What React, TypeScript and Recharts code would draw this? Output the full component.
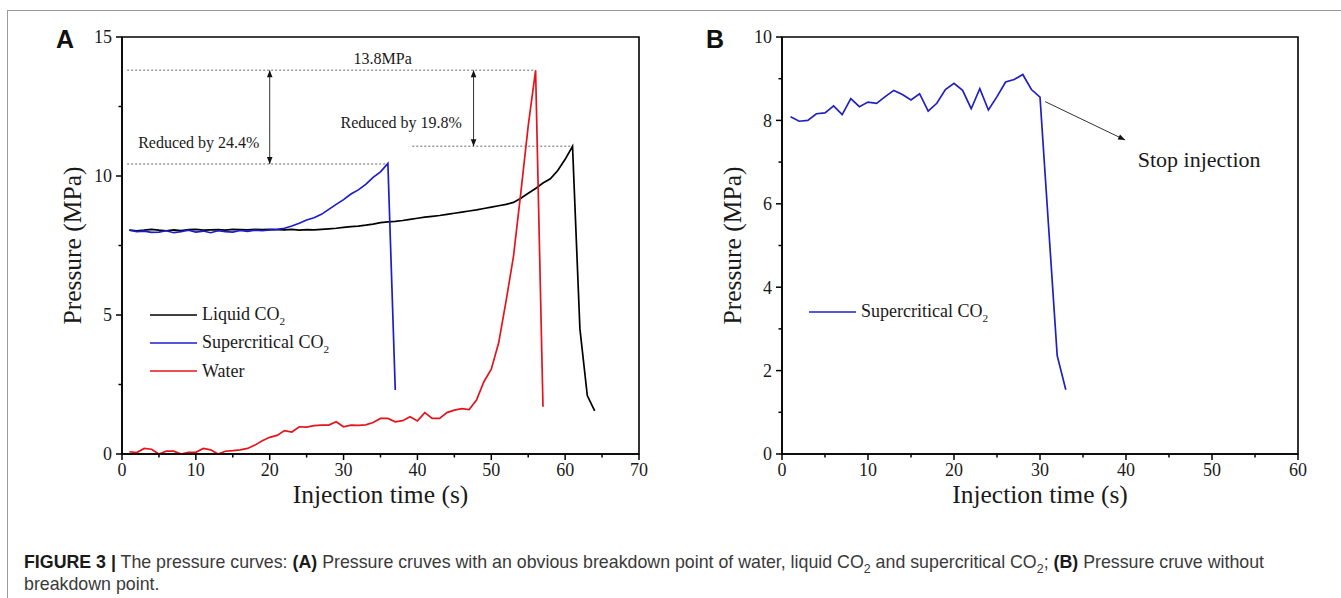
import React from 'react';
import {
  LineChart,
  Line,
  XAxis,
  YAxis,
  Legend,
  ReferenceArea,
  ReferenceLine,
  ReferenceDot,
} from 'recharts';

// Panel A: pressure (MPa) against injection time (s)
const liquidTime = [
  1, 2, 3, 4, 5, 6, 7, 8, 9, 10, 11, 12, 13, 14, 15, 16, 17, 18, 19, 20, 21, 22,
  23, 24, 25, 26, 27, 28, 29, 30, 31, 32, 33, 34, 35, 36, 37, 38, 39, 40, 41, 42,
  43, 44, 45, 46, 47, 48, 49, 50, 51, 52, 53, 54, 55, 56, 57, 58, 59, 60, 61, 62,
  63, 64,
];
const liquidPressure = [
  8.05, 8.03, 8.05, 8.08, 8.05, 8.03, 8.06, 8.04, 8.07, 8.08, 8.05, 8.06, 8.07,
  8.05, 8.08, 8.07, 8.06, 8.08, 8.07, 8.08, 8.07, 8.06, 8.08, 8.05, 8.07, 8.06,
  8.08, 8.1, 8.12, 8.15, 8.18, 8.2, 8.23, 8.27, 8.32, 8.35, 8.37, 8.4, 8.44, 8.48,
  8.52, 8.55, 8.58, 8.62, 8.66, 8.7, 8.74, 8.78, 8.83, 8.88, 8.93, 8.98, 9.05,
  9.2, 9.38, 9.55, 9.75, 9.9, 10.2, 10.6, 11.07, 4.5, 2.1, 1.55,
];

const superTime = [
  1, 2, 3, 4, 5, 6, 7, 8, 9, 10, 11, 12, 13, 14, 15, 16, 17, 18, 19, 20, 21, 22,
  23, 24, 25, 26, 27, 28, 29, 30, 31, 32, 33, 34, 35, 36, 37,
];
const superPressure = [
  8.05, 8.0, 8.02, 7.97, 7.98, 8.03, 7.96, 8.0, 8.05, 7.98, 8.02, 7.96, 8.03, 8.0,
  7.98, 8.04, 8.01, 8.05, 8.03, 8.06, 8.08, 8.12, 8.2, 8.3, 8.42, 8.5, 8.62, 8.8,
  8.98, 9.15, 9.35, 9.5, 9.7, 9.95, 10.15, 10.45, 2.3,
];

const waterTime = [
  1, 2, 3, 4, 5, 6, 7, 8, 9, 10, 11, 12, 13, 14, 15, 16, 17, 18, 19, 20, 21, 22,
  23, 24, 25, 26, 27, 28, 29, 30, 31, 32, 33, 34, 35, 36, 37, 38, 39, 40, 41, 42,
  43, 44, 45, 46, 47, 48, 49, 50, 51, 52, 53, 54, 55, 56, 57,
];
const waterPressure = [
  0.08, 0.05, 0.2, 0.17, 0.0, 0.1, 0.1, 0.0, 0.06, 0.06, 0.2, 0.15, 0.0, 0.1,
  0.12, 0.15, 0.2, 0.32, 0.48, 0.6, 0.67, 0.84, 0.79, 0.98, 0.97, 1.02, 1.04,
  1.04, 1.16, 0.98, 1.04, 1.03, 1.05, 1.13, 1.28, 1.28, 1.16, 1.2, 1.34, 1.19,
  1.49, 1.28, 1.28, 1.49, 1.58, 1.63, 1.6, 1.94, 2.6, 3.05, 4.0, 5.5, 7.1, 9.4,
  11.8, 13.8, 1.7,
];

// Panel B: supercritical CO2 without breakdown
const stopTime = [
  1, 2, 3, 4, 5, 6, 7, 8, 9, 10, 11, 12, 13, 14, 15, 16, 17, 18, 19, 20, 21, 22,
  23, 24, 25, 26, 27, 28, 29, 30, 31, 32, 33,
];
const stopPressure = [
  8.09, 7.98, 8.0, 8.16, 8.18, 8.35, 8.14, 8.52, 8.33, 8.44, 8.41, 8.57, 8.72,
  8.62, 8.49, 8.64, 8.22, 8.41, 8.74, 8.89, 8.72, 8.28, 8.76, 8.25, 8.57, 8.92,
  8.98, 9.1, 8.74, 8.56, 5.45, 2.36, 1.54,
];

const ticksA_x = [0, 5, 10, 15, 20, 25, 30, 35, 40, 45, 50, 55, 60, 65, 70];
const ticksA_y = [0, 2.5, 5, 7.5, 10, 12.5, 15];
const ticksB_x = [0, 5, 10, 15, 20, 25, 30, 35, 40, 45, 50, 55, 60];
const ticksB_y = [0, 1, 2, 3, 4, 5, 6, 7, 8, 9, 10];

const peakWater = 13.8;
const peakSuper = 10.43; // 13.8 reduced by 24.4%
const peakLiquid = 11.07; // 13.8 reduced by 19.8%

const toRows = (t: number[], p: number[]) => t.map((v, i) => ({ t: v, p: p[i] }));
const liquidRows = toRows(liquidTime, liquidPressure);
const superRows = toRows(superTime, superPressure);
const waterRows = toRows(waterTime, waterPressure);
const stopRows = toRows(stopTime, stopPressure);

const SERIF = '"Liberation Serif", "Times New Roman", serif';
const SANS = '"Liberation Sans", Arial, sans-serif';
const INK = '#1a1a1a';
const DOT = '#9a9a9a';

const isMajor = (v: number, step: number) =>
  Math.abs(v / step - Math.round(v / step)) < 1e-6;

const XTick = (props: any) => {
  const { x, y, payload, labelStep } = props;
  const major = isMajor(payload.value, labelStep);
  return (
    <g>
      <line x1={x} x2={x} y1={y} y2={y + (major ? 6 : 3.5)} stroke="#000" strokeWidth={1.5} />
      {major && (
        <text x={x} y={y + 22} textAnchor="middle" fontFamily={SERIF} fontSize={18} fill={INK}>
          {payload.value}
        </text>
      )}
    </g>
  );
};

const YTick = (props: any) => {
  const { x, y, payload, labelStep } = props;
  const major = isMajor(payload.value, labelStep);
  return (
    <g>
      <line x1={x} x2={x - (major ? 6 : 3.5)} y1={y} y2={y} stroke="#000" strokeWidth={1.5} />
      {major && (
        <text x={x - 10} y={y} dy="0.35em" textAnchor="end" fontFamily={SERIF} fontSize={18} fill={INK}>
          {payload.value}
        </text>
      )}
    </g>
  );
};

const seriesLabel = (name: string) =>
  name.endsWith('CO2') ? (
    <>
      {name.slice(0, -1)}
      <sub style={{ fontSize: '0.62em' }}>2</sub>
    </>
  ) : (
    name
  );

const LegendRows = (props: any) => (
  <div style={{ fontFamily: SERIF, fontSize: 18, color: INK }}>
    {(props.payload || []).map((entry: any) => (
      <div key={entry.value} style={{ display: 'flex', alignItems: 'center', height: 28 }}>
        <svg width={47} height={4}>
          <line x1={0} y1={2} x2={47} y2={2} stroke={entry.color} strokeWidth={1.7} />
        </svg>
        <span style={{ marginLeft: 5, whiteSpace: 'nowrap' }}>{seriesLabel(entry.value)}</span>
      </div>
    ))}
  </div>
);

const annotation = (value: string, size: number) => ({
  value,
  position: 'center' as const,
  fill: INK,
  fontSize: size,
  fontFamily: SERIF,
});

const axisTitleY = {
  value: 'Pressure (MPa)',
  angle: -90,
  position: 'left' as const,
  offset: 10,
  style: { textAnchor: 'middle' as const },
  fill: INK,
  fontSize: 25.5,
  fontFamily: SERIF,
};

const axisTitleX = {
  value: 'Injection time (s)',
  position: 'bottom' as const,
  offset: 1,
  fill: INK,
  fontSize: 25.5,
  fontFamily: SERIF,
};

function Arrowheads({ id }: { id: string }) {
  return (
    <defs>
      <marker id={id} viewBox="0 0 10 10" refX="10" refY="5" markerWidth="9" markerHeight="7"
        markerUnits="userSpaceOnUse" orient="auto-start-reverse">
        <path d="M0,1 L10,5 L0,9 z" fill="#111" />
      </marker>
    </defs>
  );
}

function PanelA() {
  return (
    <LineChart width={700} height={520} margin={{ top: 37, right: 61, bottom: 36, left: 82 }}>
      <Arrowheads id="arrA" />
      <XAxis type="number" dataKey="t" domain={[0, 70]} ticks={ticksA_x} interval={0}
        tickSize={0} tickMargin={0} tick={(p: any) => <XTick {...p} labelStep={10} />}
        stroke="#000" strokeWidth={1.5} height={30} label={axisTitleX} allowDuplicatedCategory={false} />
      <YAxis type="number" dataKey="p" domain={[0, 15]} ticks={ticksA_y} interval={0}
        tickSize={0} tickMargin={0} tick={(p: any) => <YTick {...p} labelStep={5} />}
        stroke="#000" strokeWidth={1.5} width={40} label={axisTitleY} />
      <ReferenceArea x1={0} x2={70} y1={0} y2={15} fill="none" stroke="#000" strokeWidth={1.6} />

      <ReferenceLine segment={[{ x: 0.7, y: peakWater }, { x: 56, y: peakWater }]}
        stroke={DOT} strokeWidth={1.5} strokeDasharray="2 2" />
      <ReferenceLine segment={[{ x: 0.7, y: peakSuper }, { x: 36, y: peakSuper }]}
        stroke={DOT} strokeWidth={1.5} strokeDasharray="2 2" />
      <ReferenceLine segment={[{ x: 39.3, y: peakLiquid }, { x: 61, y: peakLiquid }]}
        stroke={DOT} strokeWidth={1.5} strokeDasharray="2 2" />
      <ReferenceLine segment={[{ x: 20, y: peakWater }, { x: 20, y: peakSuper }]}
        stroke="#333" strokeWidth={1} markerStart="url(#arrA)" markerEnd="url(#arrA)" />
      <ReferenceLine segment={[{ x: 47.6, y: peakWater }, { x: 47.6, y: peakLiquid }]}
        stroke="#333" strokeWidth={1} markerStart="url(#arrA)" markerEnd="url(#arrA)" />

      <ReferenceDot x={35.3} y={14.24} r={0} fill="none" stroke="none" label={annotation('13.8MPa', 16)} />
      <ReferenceDot x={10.4} y={11.22} r={0} fill="none" stroke="none" label={annotation('Reduced by 24.4%', 16)} />
      <ReferenceDot x={37.8} y={11.94} r={0} fill="none" stroke="none" label={annotation('Reduced by 19.8%', 16)} />

      <Line data={liquidRows} dataKey="p" name="Liquid CO2" type="linear" stroke="#000000"
        strokeWidth={1.7} dot={false} isAnimationActive={false} />
      <Line data={superRows} dataKey="p" name="Supercritical CO2" type="linear" stroke="#1c1ccf"
        strokeWidth={1.7} dot={false} isAnimationActive={false} />
      <Line data={waterRows} dataKey="p" name="Water" type="linear" stroke="#e3141c"
        strokeWidth={1.7} dot={false} isAnimationActive={false} />

      <Legend layout="vertical" align="center" verticalAlign="middle" content={<LegendRows />}
        wrapperStyle={{ left: 150, top: 301, width: 'auto' }} />
    </LineChart>
  );
}

function PanelB() {
  return (
    <LineChart width={641} height={520} margin={{ top: 37, right: 43, bottom: 36, left: 42 }}>
      <Arrowheads id="arrB" />
      <XAxis type="number" dataKey="t" domain={[0, 60]} ticks={ticksB_x} interval={0}
        tickSize={0} tickMargin={0} tick={(p: any) => <XTick {...p} labelStep={10} />}
        stroke="#000" strokeWidth={1.5} height={30} label={axisTitleX} />
      <YAxis type="number" dataKey="p" domain={[0, 10]} ticks={ticksB_y} interval={0}
        tickSize={0} tickMargin={0} tick={(p: any) => <YTick {...p} labelStep={2} />}
        stroke="#000" strokeWidth={1.5} width={40} label={axisTitleY} />
      <ReferenceArea x1={0} x2={60} y1={0} y2={10} fill="none" stroke="#000" strokeWidth={1.6} />

      <ReferenceLine segment={[{ x: 30.6, y: 8.45 }, { x: 39.9, y: 7.53 }]}
        stroke="#333" strokeWidth={1} markerEnd="url(#arrB)" />
      <ReferenceDot x={48.5} y={7.07} r={0} fill="none" stroke="none" label={annotation('Stop injection', 22)} />

      <Line data={stopRows} dataKey="p" name="Supercritical CO2" type="linear" stroke="#2020c0"
        strokeWidth={1.7} dot={false} isAnimationActive={false} />

      <Legend layout="vertical" align="center" verticalAlign="middle" content={<LegendRows />}
        wrapperStyle={{ left: 109, top: 298, width: 'auto' }} />
    </LineChart>
  );
}

const subStyle = { fontSize: '0.7em', lineHeight: 0 } as const;
const boldStyle = { fontWeight: 700, color: '#1a1a1a' } as const;

export default function App() {
  return (
    <div style={{ position: 'absolute', left: 0, top: 0, width: 1341, height: 598, background: '#fff', overflow: 'hidden' }}>
      <div style={{ position: 'absolute', left: 7, top: 10, right: 0, borderTop: '1.5px solid #9a9a9a' }} />
      <div style={{ position: 'absolute', left: 7, top: 10, bottom: 0, borderLeft: '1.5px solid #9a9a9a' }} />

      <div style={{ position: 'absolute', left: 0, top: 0 }}>
        <PanelA />
      </div>
      <div style={{ position: 'absolute', left: 700, top: 0 }}>
        <PanelB />
      </div>

      <div style={{ position: 'absolute', left: 56, top: 25, fontFamily: SANS, fontWeight: 700, fontSize: 25, color: '#111' }}>A</div>
      <div style={{ position: 'absolute', left: 706, top: 25, fontFamily: SANS, fontWeight: 700, fontSize: 25, color: '#111' }}>B</div>

      <div style={{ position: 'absolute', left: 24, top: 551, fontFamily: SANS, fontSize: 17.8, lineHeight: '22px', color: '#3a3a3a', whiteSpace: 'nowrap' }}>
        <div>
          <span style={boldStyle}>FIGURE 3 |</span>
          <span> The pressure curves: </span>
          <span style={boldStyle}>(A)</span>
          <span> Pressure cruves with an obvious breakdown point of water, liquid CO</span>
          <sub style={subStyle}>2</sub>
          <span> and supercritical CO</span>
          <sub style={subStyle}>2</sub>
          <span>; </span>
          <span style={boldStyle}>(B)</span>
          <span> Pressure cruve without</span>
        </div>
        <div>
          <span>breakdown point.</span>
        </div>
      </div>
    </div>
  );
}
